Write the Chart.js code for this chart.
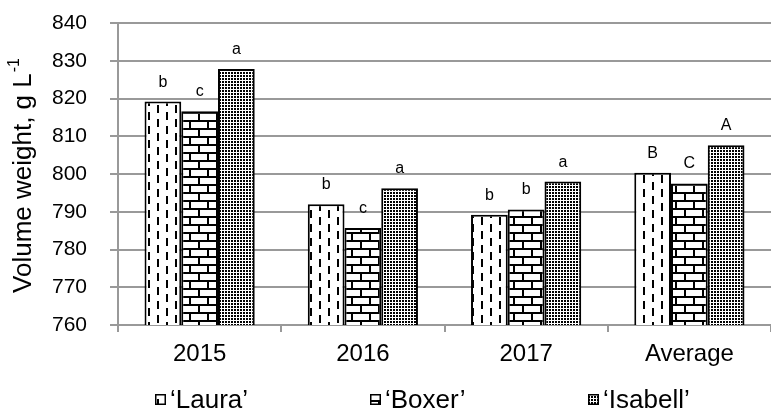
<!DOCTYPE html>
<html><head><meta charset="utf-8">
<script src="https://cdn.jsdelivr.net/npm/chart.js"></script>
<style>html,body{margin:0;padding:0;background:#fff;}#wrap{width:771px;height:412px;}</style>
</head><body><div id="wrap"><canvas id="c" width="771" height="412"></canvas></div>
<script>
// ---- data ----
const categories = ['2015', '2016', '2017', 'Average'];
const seriesNames = ['\u2018Laura\u2019', '\u2018Boxer\u2019', '\u2018Isabell\u2019'];
const laura   = [819.2, 792.0, 789.2, 800.3];
const boxer   = [816.6, 785.7, 790.6, 797.5];
const isabell = [827.8, 796.2, 798.0, 807.6];
const lauraLetters   = ['b', 'b', 'b', 'B'];
const boxerLetters   = ['c', 'c', 'b', 'C'];
const isabellLetters = ['a', 'a', 'a', 'A'];
const yMin = 760, yMax = 840, yStep = 10;
const yTitle = 'Volume weight, g L';
const yTitleSup = '-1';

const FONT = 'Liberation Sans, Arial, sans-serif';
const canvas = document.getElementById('c');
const ctx = canvas.getContext('2d');

function makePattern(w, h, draw) {
  const c = document.createElement('canvas');
  c.width = w; c.height = h;
  const x = c.getContext('2d');
  x.fillStyle = '#fff'; x.fillRect(0, 0, w, h);
  x.fillStyle = '#000';
  draw(x);
  return ctx.createPattern(c, 'repeat');
}
const dashPattern = makePattern(18, 14, x => {
  x.fillRect(4, 0, 2, 8);
  x.fillRect(13, 7, 2, 7); x.fillRect(13, 0, 2, 1);
});
const brickPattern = makePattern(18, 16, x => {
  x.fillRect(0, 0, 18, 2); x.fillRect(0, 8, 18, 2);
  x.fillRect(0, 0, 2, 8); x.fillRect(9, 8, 2, 8);
});
const dotPattern = makePattern(3, 3, x => {
  x.fillRect(0, 0, 2, 2);
});

const letters = [lauraLetters, boxerLetters, isabellLetters];

const letterPlugin = {
  id: 'letters',
  afterDatasetsDraw(chart) {
    const c = chart.ctx;
    c.save();
    c.font = '16px ' + FONT;
    c.fillStyle = '#000';
    c.textAlign = 'center';
    c.textBaseline = 'alphabetic';
    chart.data.datasets.forEach((ds, i) => {
      chart.getDatasetMeta(i).data.forEach((bar, j) => {
        c.fillText(letters[i][j], bar.x, bar.y - 15);
      });
    });
    c.restore();
  }
};

const titleLegendPlugin = {
  id: 'titleLegend',
  afterDraw(chart) {
    const c = chart.ctx;
    const area = chart.chartArea;
    c.save();
    // y-axis title with superscript
    c.fillStyle = '#000';
    const mainFont = '26px ' + FONT, supFont = '16px ' + FONT;
    c.font = mainFont; const w1 = c.measureText(yTitle).width;
    c.font = supFont; const w2 = c.measureText(yTitleSup).width;
    c.translate(21, (area.top + area.bottom) / 2 + 2);
    c.rotate(-Math.PI / 2);
    const sx = -(w1 + w2) / 2;
    c.textBaseline = 'alphabetic';
    c.textAlign = 'left';
    c.font = mainFont; c.fillText(yTitle, sx, 10);
    c.font = supFont; c.fillText(yTitleSup, sx + w1 + 1, -2);
    c.restore();

    // legend
    c.save();
    const starts = [155, 370, 588];
    c.font = '26px ' + FONT;
    c.textBaseline = 'alphabetic';
    c.textAlign = 'left';
    chart.data.datasets.forEach((ds, i) => {
      const x0 = starts[i];
      const boxY = 394;
      c.fillStyle = ds.backgroundColor;
      c.fillRect(x0, boxY, 11, 11);
      c.strokeStyle = '#000'; c.lineWidth = 1.5;
      c.strokeRect(x0 + 0.75, boxY + 0.75, 9.5, 9.5);
      c.fillStyle = '#000';
      c.fillText(ds.label, x0 + 15, 408);
    });
    c.restore();
  }
};

new Chart(canvas, {
  type: 'bar',
  data: {
    labels: categories,
    datasets: [
      { label: seriesNames[0], data: laura,   backgroundColor: dashPattern },
      { label: seriesNames[1], data: boxer,   backgroundColor: brickPattern },
      { label: seriesNames[2], data: isabell, backgroundColor: dotPattern }
    ]
  },
  options: {
    responsive: false,
    animation: false,
    devicePixelRatio: 1,
    layout: { padding: { left: 0, right: 0, top: 23, bottom: 39 } },
    datasets: {
      bar: {
        borderColor: '#000', borderWidth: 2,
        categoryPercentage: 0.675, barPercentage: 1.0,
        borderSkipped: 'start'
      }
    },
    plugins: {
      legend: { display: false },
      tooltip: { enabled: false }
    },
    scales: {
      x: {
        afterFit: s => { s.height = 48; },
        grid: { drawOnChartArea: false, offset: true, tickLength: 7, color: '#999', lineWidth: 2 },
        border: { display: true, color: '#999', width: 2 },
        ticks: { font: { family: FONT, size: 24 }, color: '#000', padding: 8 }
      },
      y: {
        min: yMin, max: yMax,
        afterFit: s => { s.width = 118; s.paddingTop = 0; s.paddingBottom = 0; },
        grid: { color: '#999', lineWidth: 2, tickLength: 8 },
        border: { display: true, color: '#999', width: 2 },
        ticks: { stepSize: yStep, font: { family: FONT, size: 21 }, color: '#000', padding: 23 }
      }
    }
  },
  plugins: [letterPlugin, titleLegendPlugin]
});
</script>
</body></html>
